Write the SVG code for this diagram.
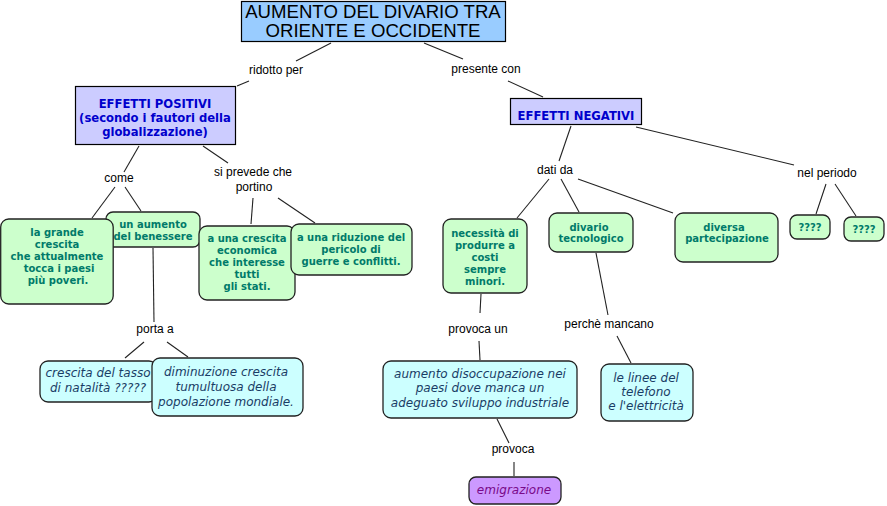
<svg xmlns="http://www.w3.org/2000/svg" width="887" height="506" viewBox="0 0 887 506">
<style>
.bg{fill:#ffffff}
.conn line{stroke:#222;stroke-width:1.1}
.lbl{font-family:"Liberation Sans",Arial,sans-serif;font-size:12px;fill:#000;text-anchor:middle}
.title rect{fill:#99ccff;stroke:#000;stroke-width:1.2}
.title text{font-family:"Liberation Sans",Arial,sans-serif;font-size:18.6px;fill:#000;text-anchor:middle}
.eff rect{fill:#ccccff;stroke:#000;stroke-width:1.2}
.eff text{font-family:"DejaVu Sans",Verdana,sans-serif;font-weight:bold;font-size:11.6px;fill:#0000cc;text-anchor:middle}
.grn rect{fill:#ccffcc;stroke:#222;stroke-width:1.3}
.grn text{font-family:"DejaVu Sans",Verdana,sans-serif;font-weight:bold;font-size:10px;fill:#007a6a;text-anchor:middle}
.cyn rect{fill:#ccffff;stroke:#222;stroke-width:1.3}
.cyn text{font-family:"DejaVu Sans",Verdana,sans-serif;font-style:italic;font-size:12px;fill:#1a3d66;text-anchor:middle}
.pur rect{fill:#cc99ff;stroke:#222;stroke-width:1.3}
.pur text{font-family:"DejaVu Sans",Verdana,sans-serif;font-style:italic;font-size:12px;fill:#7a0a8a;text-anchor:middle}
</style>
<rect class="bg" x="0" y="0" width="887" height="506"/>
<g id="connectors" class="conn">
<line x1="331" y1="43" x2="296" y2="61"/>
<line x1="249" y1="81" x2="237" y2="86"/>
<line x1="424" y1="43" x2="463" y2="59"/>
<line x1="508" y1="81" x2="543" y2="97"/>
<line x1="139" y1="146" x2="124" y2="172"/>
<line x1="115" y1="187" x2="92" y2="218"/>
<line x1="125" y1="187" x2="141" y2="211"/>
<line x1="203" y1="146" x2="228" y2="163"/>
<line x1="253" y1="198" x2="251" y2="224"/>
<line x1="278" y1="198" x2="315" y2="223"/>
<line x1="153" y1="248" x2="154" y2="322"/>
<line x1="144" y1="342" x2="125" y2="358"/>
<line x1="167" y1="342" x2="188" y2="357"/>
<line x1="571" y1="126" x2="559" y2="161"/>
<line x1="549" y1="179" x2="517" y2="218"/>
<line x1="561" y1="179" x2="579" y2="212"/>
<line x1="578" y1="179" x2="673" y2="213"/>
<line x1="636" y1="127" x2="794" y2="165"/>
<line x1="826" y1="184" x2="816" y2="214"/>
<line x1="835" y1="184" x2="856" y2="216"/>
<line x1="481" y1="294" x2="480" y2="313"/>
<line x1="479" y1="341" x2="480" y2="360"/>
<line x1="596" y1="253" x2="608" y2="315"/>
<line x1="617" y1="336" x2="631" y2="363"/>
<line x1="497" y1="419" x2="509" y2="443"/>
<line x1="514" y1="462" x2="514" y2="476"/>
</g>
<g id="labels">
<text class="lbl" x="276" y="74">ridotto per</text>
<text class="lbl" x="486" y="73">presente con</text>
<text class="lbl" x="119" y="182">come</text>
<text class="lbl" x="253" y="176">si prevede che</text>
<text class="lbl" x="254" y="191">portino</text>
<text class="lbl" x="155" y="333">porta a</text>
<text class="lbl" x="555" y="174">dati da</text>
<text class="lbl" x="827" y="177">nel periodo</text>
<text class="lbl" x="478" y="333">provoca un</text>
<text class="lbl" x="609" y="328">perchè mancano</text>
<text class="lbl" x="513" y="453">provoca</text>
</g>
<g id="n-title" class="title">
<rect x="241.5" y="1.5" width="264" height="40"/>
<text x="373" y="18">AUMENTO DEL DIVARIO TRA</text>
<text x="373" y="37">ORIENTE E OCCIDENTE</text>
</g>
<g id="n-positivi" class="eff">
<rect x="75.5" y="86.5" width="160" height="58"/>
<text x="155" y="107.5">EFFETTI POSITIVI</text>
<text x="155" y="121.5">(secondo i fautori della</text>
<text x="155" y="136">globalizzazione)</text>
</g>
<g id="n-negativi" class="eff">
<rect x="510.5" y="98.5" width="131" height="26"/>
<text x="576" y="120">EFFETTI NEGATIVI</text>
</g>
<g id="n-benessere" class="grn">
<rect x="106" y="212" width="94" height="35" rx="7"/>
<text x="153" y="228">un aumento</text>
<text x="153" y="240">del benessere</text>
</g>
<g id="n-grande" class="grn">
<rect x="0.7" y="219" width="112.5" height="85" rx="8"/>
<text x="57" y="236">la grande</text>
<text x="57" y="248">crescita</text>
<text x="57" y="260">che attualmente</text>
<text x="59" y="272">tocca i paesi</text>
<text x="58" y="284">più poveri.</text>
</g>
<g id="n-crescita-econ" class="grn">
<rect x="199" y="226" width="96" height="74" rx="8"/>
<text x="247" y="242">a una crescita</text>
<text x="247" y="254">economica</text>
<text x="247" y="266">che interesse</text>
<text x="247" y="278">tutti</text>
<text x="247" y="290">gli stati.</text>
</g>
<g id="n-riduzione" class="grn">
<rect x="291" y="224" width="121" height="51" rx="8"/>
<text x="351" y="241">a una riduzione del</text>
<text x="351" y="253">pericolo di</text>
<text x="351" y="265">guerre e conflitti.</text>
</g>
<g id="n-necessita" class="grn">
<rect x="443" y="219" width="84" height="74" rx="8"/>
<text x="485" y="237">necessità di</text>
<text x="485" y="249">produrre a</text>
<text x="485" y="261">costi</text>
<text x="485" y="273">sempre</text>
<text x="485" y="285">minori.</text>
</g>
<g id="n-divario" class="grn">
<rect x="549" y="213" width="84" height="39" rx="8"/>
<text x="589" y="231">divario</text>
<text x="591" y="242">tecnologico</text>
</g>
<g id="n-diversa" class="grn">
<rect x="675" y="213" width="103" height="49" rx="8"/>
<text x="724" y="231">diversa</text>
<text x="727" y="242">partecipazione</text>
</g>
<g id="n-q1" class="grn">
<rect x="790" y="215" width="40" height="24" rx="7"/>
<text x="810" y="231">????</text>
</g>
<g id="n-q2" class="grn">
<rect x="844" y="217" width="40" height="24" rx="7"/>
<text x="864" y="233">????</text>
</g>
<g id="n-tasso" class="cyn">
<rect x="40" y="361" width="117" height="41" rx="8"/>
<text x="98" y="377">crescita del tasso</text>
<text x="98" y="392">di natalità ?????</text>
</g>
<g id="n-diminuzione" class="cyn">
<rect x="152" y="358" width="151" height="58" rx="8"/>
<text x="226" y="376">diminuzione crescita</text>
<text x="226" y="391">tumultuosa della</text>
<text x="226" y="406">popolazione mondiale.</text>
</g>
<g id="n-disoccupazione" class="cyn">
<rect x="383" y="361" width="194" height="57" rx="8"/>
<text x="480" y="378">aumento disoccupazione nei</text>
<text x="480" y="392">paesi dove manca un</text>
<text x="480" y="407">adeguato sviluppo industriale</text>
</g>
<g id="n-linee" class="cyn">
<rect x="601" y="364" width="92" height="57" rx="8"/>
<text x="646" y="382">le linee del</text>
<text x="646" y="396">telefono</text>
<text x="646" y="410">e l'elettricità</text>
</g>
<g id="n-emigrazione" class="pur">
<rect x="469" y="477" width="92" height="27" rx="7"/>
<text x="514" y="494">emigrazione</text>
</g>
</svg>
